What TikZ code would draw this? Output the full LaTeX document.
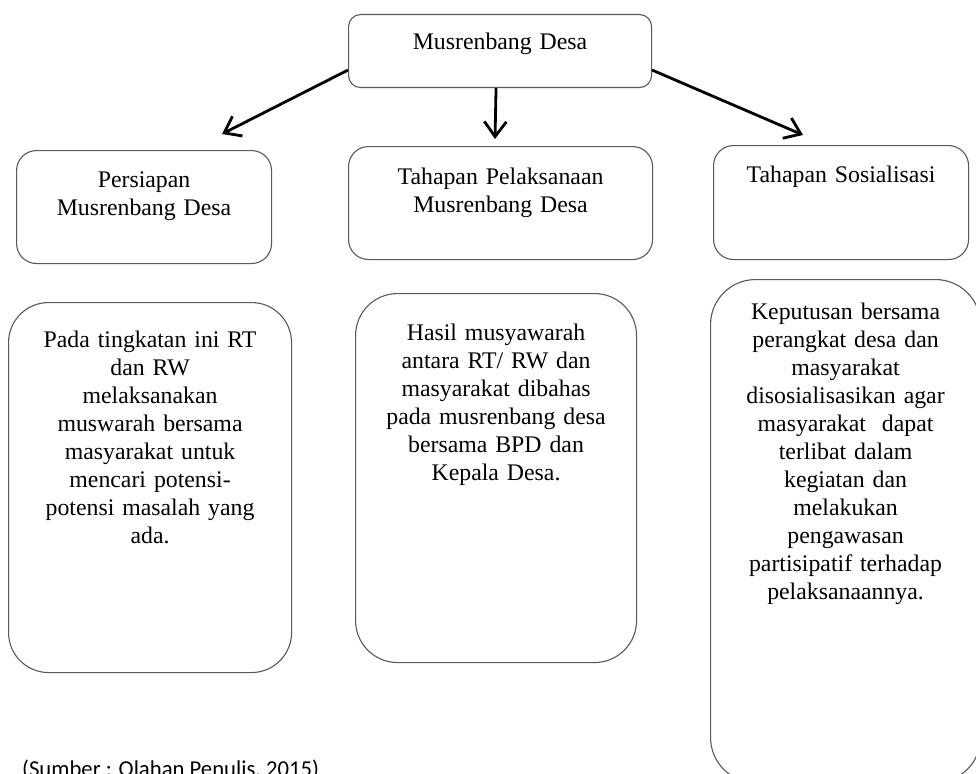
\documentclass[tikz,border=0pt]{standalone}
\usepackage{fontspec}
\setmainfont{Liberation Serif}
\newfontfamily\sourcefont{Carlito}
\usetikzlibrary{arrows.meta}

\begin{document}
\begin{tikzpicture}[x=1pt,y=-1pt,>={Straight Barb[length=15pt,width=22pt]},
  stage node/.style={draw=black!65,line width=1.1pt,anchor=north west,
    inner sep=0pt,align=center,font=\fontsize{23.8}{28}\selectfont},
  flow/.style={->,line width=2.8pt}]
    \useasboundingbox (0,0) rectangle (976,773);
    \clip (0,0) rectangle (976,773);
    % top level
    \node[stage node,rounded corners=12pt,text width=303pt,
      text height=35pt,text depth=38pt](musren) at (348,14) {Musrenbang Desa};
    % stages
    \node[stage node,rounded corners=20pt,text width=255pt,
      text height=37pt,text depth=76pt](persiapan) at (16,150)
      {Persiapan\\Musrenbang Desa};
    \node[stage node,rounded corners=20pt,text width=304pt,
      text height=38pt,text depth=75pt](pelaksanaan) at (348,146)
      {Tahapan Pelaksanaan\\Musrenbang Desa};
    \node[stage node,rounded corners=20pt,text width=255pt,
      text height=37pt,text depth=77pt](sosialisasi) at (713,145)
      {Tahapan Sosialisasi};
    % descriptions
    \node[stage node,rounded corners=40pt,text width=283pt,
      text height=45pt,text depth=325pt](ketPersiapan) at (8,302)
      {Pada tingkatan ini RT\\dan RW\\melaksanakan\\muswarah bersama\\
       masyarakat untuk\\mencari potensi-\\potensi masalah yang\\ada.};
    \node[stage node,rounded corners=42pt,text width=281pt,
      text height=47pt,text depth=322pt](ketPelaksanaan) at (355,293)
      {Hasil musyawarah\\antara RT/ RW dan\\masyarakat dibahas\\
       pada musrenbang desa\\bersama BPD dan\\Kepala Desa.};
    \node[stage node,rounded corners=45pt,text width=270pt,
      text height=40pt,text depth=463pt](ketSosialisasi) at (710,279)
      {Keputusan bersama\\perangkat desa dan\\masyarakat\\
       disosialisasikan agar\\masyarakat \ dapat\\terlibat dalam\\
       kegiatan dan\\melakukan\\pengawasan\\partisipatif terhadap\\
       pelaksanaannya.};
    \node[anchor=base west,inner sep=0pt,
      font=\sourcefont\fontsize{22.7}{27}\selectfont](sumber) at (22,776)
      {(Sumber : Olahan Penulis, 2015)};
    % arrows
    \coordinate (tipL) at (222,134);
    \coordinate (tipM) at (495,139);
    \coordinate (tipR) at (803,135);
    \draw[flow] ([yshift=-19pt]musren.west) -- (tipL);
    \draw[flow] ([xshift=-4pt]musren.south) -- (tipM);
    \draw[flow] ([yshift=-19pt]musren.east) -- (tipR);
\end{tikzpicture}
\end{document}
